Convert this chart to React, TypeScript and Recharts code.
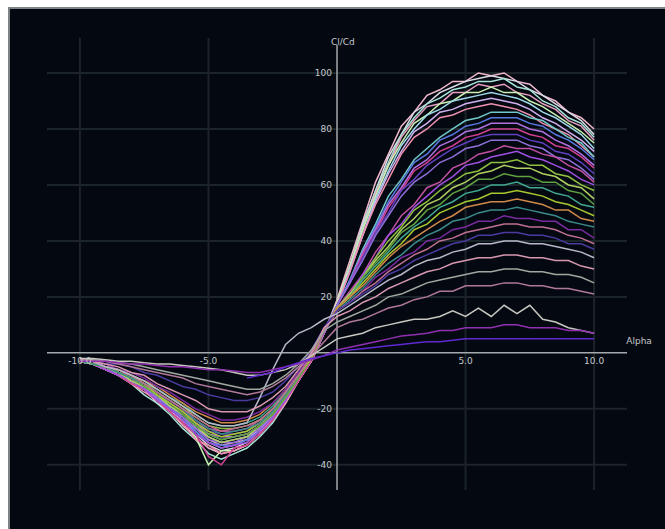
import { Line, LineChart, ReferenceDot, ReferenceLine, XAxis, YAxis } from "recharts";

// angle of attack, one column per 0.5 deg
const ALPHA = [
  -10, -9.5, -9, -8.5, -8, -7.5, -7, -6.5, -6, -5.5, -5, -4.5, -4, -3.5, -3, -2.5, -2, -1.5, -1, -0.5,
  0, 0.5, 1, 1.5, 2, 2.5, 3, 3.5, 4, 4.5, 5, 5.5, 6, 6.5, 7, 7.5, 8, 8.5, 9, 9.5, 10,
];

// Cl/Cd polars, highest curve first (first row: alpha -10..-0.5, second row: 0..10)
const re01 = [-3, -4, -6, -7, -11, -13, -18, -21, -26, -30, -34, -36, -35, -33, -29, -24, -17, -10, -3, 7,
  19, 33, 47, 61, 71, 81, 86, 92, 94, 97, 97, 100, 99, 100, 97, 96, 92, 90, 86, 84, 80];
const re02 = [-3, -4, -6, -8, -10, -13, -17, -21, -24, -29, -33, -35, -34, -32, -28, -24, -17, -9, -3, 7,
  18, 31, 46, 58, 70, 78, 86, 89, 93, 95, 97, 98, 99, 98, 97, 94, 92, 89, 86, 83, 78];
const re03 = [-3, -4, -6, -8, -11, -15, -18, -22, -27, -31, -36, -38, -36, -34, -30, -25, -18, -10, -3, 7,
  18, 31, 45, 58, 68, 78, 84, 89, 91, 94, 95, 97, 97, 98, 95, 94, 90, 88, 84, 82, 77];
const re04 = [-3, -4, -6, -7, -10, -13, -16, -20, -23, -27, -31, -33, -32, -31, -27, -23, -16, -9, -2, 7,
  18, 31, 44, 57, 67, 77, 83, 88, 89, 93, 93, 96, 95, 96, 93, 92, 89, 87, 83, 81, 76];
const re05 = [-3, -4, -6, -8, -11, -13, -17, -21, -25, -30, -40, -35, -35, -33, -29, -24, -17, -10, -3, 7,
  18, 31, 44, 56, 67, 75, 82, 85, 89, 90, 93, 93, 95, 93, 93, 90, 88, 85, 82, 79, 75];
const re06 = [-3, -4, -6, -7, -10, -13, -16, -20, -24, -28, -32, -34, -33, -31, -28, -23, -17, -9, -2, 7,
  17, 30, 42, 55, 65, 74, 80, 85, 87, 90, 91, 92, 93, 92, 91, 89, 86, 84, 81, 78, 73];
const re07 = [-3, -4, -5, -7, -10, -12, -16, -19, -23, -27, -30, -32, -31, -30, -27, -22, -16, -9, -2, 8,
  17, 29, 42, 54, 64, 72, 79, 82, 86, 87, 89, 90, 91, 90, 89, 87, 84, 82, 79, 76, 72];
const re08 = [-3, -4, -6, -8, -11, -14, -17, -21, -25, -31, -33, -36, -35, -33, -29, -24, -18, -10, -3, 7,
  17, 29, 42, 53, 62, 71, 77, 80, 84, 85, 87, 88, 89, 88, 87, 85, 82, 80, 78, 74, 70];
const re09 = [-3, -4, -5, -7, -9, -12, -15, -19, -22, -26, -29, -31, -30, -29, -26, -22, -16, -9, -2, 8,
  17, 26, 37, 46, 56, 62, 69, 73, 77, 80, 83, 84, 86, 86, 86, 84, 83, 80, 77, 75, 70];
const re10 = [-3, -4, -6, -7, -10, -13, -16, -20, -23, -28, -32, -33, -33, -31, -28, -23, -17, -9, -2, 7,
  17, 26, 36, 45, 54, 61, 68, 71, 76, 78, 81, 82, 84, 84, 84, 82, 81, 78, 76, 73, 69];
const re11 = [-3, -4, -5, -7, -9, -12, -15, -18, -21, -25, -29, -30, -30, -29, -26, -21, -15, -8, -2, 8,
  17, 25, 36, 44, 53, 59, 66, 69, 74, 76, 79, 80, 82, 82, 82, 80, 79, 76, 74, 71, 67];
const re12 = [-3, -4, -6, -8, -11, -13, -17, -21, -25, -29, -37, -40, -34, -33, -29, -24, -17, -10, -3, 7,
  17, 25, 35, 43, 52, 58, 65, 68, 72, 74, 77, 78, 80, 80, 80, 78, 77, 74, 73, 70, 66];
const re13 = [-3, -4, -5, -7, -9, -11, -14, -18, -21, -24, -28, -29, -29, -28, -25, -21, -15, -8, -2, 8,
  17, 25, 34, 43, 50, 58, 62, 67, 70, 73, 75, 77, 78, 78, 78, 76, 75, 72, 71, 68, 64];
const re14 = [-3, -4, -5, -7, -10, -12, -16, -19, -23, -27, -31, -32, -32, -30, -27, -22, -16, -9, -2, 8,
  17, 25, 33, 42, 49, 56, 61, 64, 68, 70, 73, 74, 76, 76, 76, 74, 73, 70, 69, 66, 62];
const re15 = [-3, -3, -5, -6, -9, -11, -14, -17, -20, -24, -27, -28, -28, -27, -24, -20, -15, -8, -1, 8,
  16, 22, 28, 36, 42, 49, 53, 59, 61, 66, 68, 71, 72, 74, 73, 73, 71, 70, 67, 65, 61];
const re16 = [-3, -4, -6, -8, -10, -13, -17, -20, -24, -29, -32, -34, -33, -32, -28, -23, -17, -9, -2, 7,
  16, 21, 28, 34, 42, 46, 52, 56, 60, 63, 67, 68, 70, 71, 72, 70, 69, 67, 65, 62, 60];
const re17 = [-3, -3, -5, -6, -8, -11, -13, -16, -19, -23, -26, -27, -27, -26, -24, -20, -14, -8, -1, 8,
  16, 21, 27, 34, 40, 45, 51, 54, 58, 61, 64, 65, 68, 68, 69, 67, 67, 64, 63, 60, 58];
const re18 = [-3, -4, -5, -7, -10, -12, -15, -19, -22, -26, -30, -32, -31, -30, -26, -22, -16, -9, -2, 8,
  16, 21, 27, 33, 38, 44, 48, 53, 55, 59, 61, 64, 65, 67, 66, 66, 64, 63, 60, 59, 55];
const re19 = [-3, -4, -5, -7, -9, -12, -15, -18, -22, -26, -29, -31, -30, -29, -26, -22, -16, -9, -2, 8,
  16, 20, 27, 32, 37, 43, 46, 51, 53, 57, 59, 62, 62, 64, 63, 63, 61, 61, 58, 57, 53];
const re20 = [-3, -3, -5, -6, -8, -10, -13, -16, -18, -22, -25, -26, -26, -25, -23, -19, -14, -7, -1, 8,
  16, 20, 26, 31, 36, 41, 45, 48, 52, 54, 57, 58, 60, 60, 61, 59, 59, 57, 56, 53, 52];
const re21 = [-3, -4, -5, -7, -9, -11, -15, -18, -21, -25, -28, -30, -29, -28, -25, -21, -15, -8, -2, 8,
  16, 20, 25, 30, 35, 39, 44, 46, 50, 52, 54, 55, 57, 57, 58, 57, 56, 54, 53, 51, 49];
const re22 = [-3, -3, -5, -6, -8, -10, -12, -15, -18, -21, -23, -25, -25, -24, -22, -18, -13, -7, -1, 8,
  16, 20, 24, 29, 34, 38, 41, 44, 47, 49, 52, 53, 54, 54, 55, 54, 53, 51, 51, 48, 47];
const re23 = [-3, -4, -5, -7, -9, -11, -14, -17, -20, -24, -27, -29, -28, -27, -25, -21, -15, -8, -1, 8,
  15, 19, 23, 28, 32, 35, 39, 42, 44, 47, 48, 50, 51, 51, 52, 51, 50, 49, 47, 46, 45];
const re24 = [-2, -3, -4, -6, -7, -9, -12, -14, -17, -20, -22, -24, -24, -23, -21, -18, -13, -7, 0, 9,
  15, 18, 22, 27, 30, 34, 36, 40, 41, 44, 45, 47, 47, 49, 48, 48, 47, 47, 44, 44, 41];
const re25 = [-3, -3, -5, -6, -8, -11, -14, -17, -20, -23, -26, -28, -27, -26, -24, -20, -14, -8, -1, 8,
  15, 18, 22, 25, 29, 32, 35, 37, 40, 41, 43, 44, 45, 46, 46, 45, 45, 44, 42, 41, 39];
const re26 = [-2, -3, -4, -4, -5, -7, -8, -10, -12, -13, -15, -16, -17, -17, -16, -14, -10, -5, 1, 9,
  15, 18, 21, 24, 28, 30, 33, 35, 37, 39, 40, 42, 42, 43, 43, 42, 42, 41, 39, 39, 37];
const re27 = [-3, -3, -5, -6, -8, -10, -13, -16, -19, -22, -25, -26, -26, -25, -16, -6, 3, 7, 9, 12,
  14, 17, 20, 23, 26, 28, 31, 33, 34, 36, 37, 39, 39, 40, 40, 39, 39, 38, 37, 36, 34];
const re28 = [-2, -3, -4, -5, -7, -8, -11, -13, -15, -17, -20, -21, -21, -21, -19, -16, -12, -6, 0, 9,
  13, 15, 18, 20, 23, 25, 27, 29, 30, 32, 33, 34, 34, 35, 35, 34, 34, 33, 33, 31, 30];
const re29 = [-2, -2.5, -3, -3.5, -4, -5, -6, -7, -8, -9, -10, -11, -12, -13, -13, -11, -8, -4, 1, 8,
  11, 13, 15, 17, 20, 21, 23, 25, 26, 27, 28, 29, 29, 30, 30, 29, 29, 28, 28, 27, 25];
const re30 = [-2, -3, -3, -4, -5, -6, -7, -8, -9, -11, -12, -13, -14, -15, -14, -12, -9, -5, -1, 4,
  9, 11, 12, 14, 16, 17, 19, 20, 22, 22, 24, 24, 24, 25, 25, 24, 24, 23, 23, 22, 21];
const re31 = [-2, -2, -2.5, -3, -3, -3.5, -4, -4, -4.5, -5, -5.5, -6, -7, -8, -8, -7, -6, -4, -1, 2,
  5, 6, 7, 9, 10, 11, 12, 12, 13, 15, 13, 16, 13, 17, 14, 17, 12, 11, 9, 8, 7];
const re32 = [-3, -3, -3, -3.5, -4, -4, -4.5, -5, -5, -5.5, -6, -6, -6.5, -7, -7, -6, -5, -4, -2.5, -1,
  1, 2, 3, 4, 5, 6, 6.5, 7, 8, 8, 9, 9, 9, 10, 10, 9, 9, 9, 8, 8, 7];
const re33 = [null, null, null, null, null, null, null, null, null, null, null, null, null, -9, -8, -7, -5, -3.5, -2, -1,
  0, 1, 1.5, 2, 2.5, 3, 3.5, 4, 4, 4.5, 5, 5, 5, 5, 5, 5, 5, 5, 5, 5, 5];

const CURVES = [
  re01, re02, re03, re04, re05, re06, re07, re08, re09, re10, re11,
  re12, re13, re14, re15, re16, re17, re18, re19, re20, re21, re22,
  re23, re24, re25, re26, re27, re28, re29, re30, re31, re32, re33,
];

const COLORS = [
  "#f2b8cc", "#dcdce6", "#a8e4d8", "#e8a0c0", "#c8f0b0", "#9fd8e8", "#d0b0f0",
  "#f090b0", "#70c8c8", "#5a78e0", "#b070e0", "#d04090", "#6040c0", "#9070d8",
  "#c050a0", "#a050e0", "#90c040", "#b0d060", "#60a040", "#40a890", "#a8c830",
  "#d08848", "#3a8a8a", "#7a2aa0", "#c07090", "#4a3aa0", "#b8b8c8", "#d898b0",
  "#a0a8a0", "#b07898", "#c8c8c0", "#9030b0", "#6028d0",
];

const X_TICKS = [-10, -5, 5, 10];
const Y_TICKS = [100, 80, 60, 40, 20, -20, -40];

const BG = "#040911";
const GRID = "#1b2429";
const AXIS = "#a4a9ad";
const TEXT = "#c4c8cc";

const data = ALPHA.map((alpha, i) => {
  const row: Record<string, number | null> = { alpha };
  CURVES.forEach((c, j) => {
    row[`c${j}`] = c[i];
  });
  return row;
});

const labelStyle = { fill: TEXT, fontSize: 9, fontFamily: "DejaVu Sans, sans-serif" };

export default function App() {
  return (
    <div
      style={{
        position: "fixed",
        left: 8,
        top: 7,
        width: 657,
        height: 522,
        boxSizing: "border-box",
        background: BG,
        borderTop: "2px solid #7d8488",
        borderLeft: "2px solid #7d8488",
      }}
    >
      <LineChart
        width={655}
        height={520}
        data={data}
        margin={{ top: 29, right: 38, bottom: 39, left: 37 }}
      >
        <XAxis dataKey="alpha" type="number" domain={[-11.28, 11.28]} allowDataOverflow hide />
        <YAxis type="number" domain={[-49, 112.5]} allowDataOverflow hide />

        {X_TICKS.map((x) => (
          <ReferenceLine key={`gx${x}`} x={x} stroke={GRID} strokeWidth={2} />
        ))}
        {Y_TICKS.map((y) => (
          <ReferenceLine key={`gy${y}`} y={y} stroke={GRID} strokeWidth={2} />
        ))}

        <ReferenceLine y={0} stroke={AXIS} strokeWidth={1.5} />
        <ReferenceLine
          segment={[
            { x: 0, y: 110 },
            { x: 0, y: -49 },
          ]}
          stroke={AXIS}
          strokeWidth={1.5}
        />

        {CURVES.map((_, j) => (
          <Line
            key={j}
            dataKey={`c${j}`}
            type="linear"
            stroke={COLORS[j]}
            strokeWidth={1.5}
            dot={false}
            activeDot={false}
            isAnimationActive={false}
          />
        ))}

        {X_TICKS.map((x) => (
          <ReferenceDot
            key={`lx${x}`}
            x={x}
            y={0}
            r={0.1}
            fill="none"
            stroke="none"
            label={{ value: x.toFixed(1), position: "bottom", ...labelStyle }}
          />
        ))}
        {Y_TICKS.map((y) => (
          <ReferenceDot
            key={`ly${y}`}
            x={0}
            y={y}
            r={0.1}
            fill="none"
            stroke="none"
            label={{ value: String(y), position: "left", ...labelStyle }}
          />
        ))}
        <ReferenceDot
          x={0.23}
          y={111}
          r={0.1}
          fill="none"
          stroke="none"
          ifOverflow="visible"
          label={{ value: "Cl/Cd", position: "center", ...labelStyle }}
        />
        <ReferenceDot
          x={11.75}
          y={4.3}
          r={0.1}
          fill="none"
          stroke="none"
          ifOverflow="visible"
          label={{ value: "Alpha", position: "center", ...labelStyle }}
        />
      </LineChart>
    </div>
  );
}
